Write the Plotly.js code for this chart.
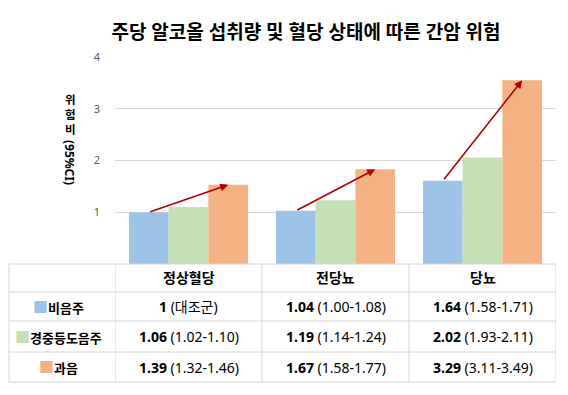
<!DOCTYPE html>
<html>
<head>
<meta charset="utf-8">
<script src="https://cdn.plot.ly/plotly-3.0.1.min.js"></script>
<style>html,body{margin:0;padding:0;background:#fff}#chart{width:568px;height:395px}</style>
</head>
<body>
<div id="chart"></div>
<script>
// ---- data ----
var categories = ['정상혈당', '전당뇨', '당뇨'];
var seriesNames = ['비음주', '경중등도음주', '과음'];
// bar heights
var nonDrinker = [1.00, 1.03, 1.61];
var moderate   = [1.10, 1.23, 2.06];
var heavy      = [1.53, 1.83, 3.55];
// table texts
var hrNon   = ['1', '1.04', '1.64'];
var ciNon   = ['(대조군)', '(1.00-1.08)', '(1.58-1.71)'];
var hrMod   = ['1.06', '1.19', '2.02'];
var ciMod   = ['(1.02-1.10)', '(1.14-1.24)', '(1.93-2.11)'];
var hrHeavy = ['1.39', '1.67', '3.29'];
var ciHeavy = ['(1.32-1.46)', '(1.58-1.77)', '(3.11-3.49)'];
var yTicks = [1, 2, 3, 4];
var titleText = '주당 알코올 섭취량 및 혈당 상태에 따른 간암 위험';
var yTitleKo = ['위', '험', '비'];
var yTitleEn = '(95%CI)';

// ---- style / layout constants ----
var colors = ['#9DC3E6', '#C5E0B4', '#F4B183'];
var FONT = 'Noto Sans, Noto Sans CJK KR, sans-serif';
var FONT_KR = 'Noto Sans CJK KR, sans-serif';
var bargap = 0.19;
var W = 568, H = 395;
var M = {l: 115, r: 12, t: 57, b: 131};
var plotW = W - M.l - M.r, plotH = H - M.t - M.b;
function px2paperX(px) { return (px - M.l) / plotW; }
function py2paperY(py) { return (H - M.b - py) / plotH; }
var tableLeftPx = 9;
var rowEdgesPx = [264, 292, 321, 352, 382];
var lineColor = '#d6d6d6';

var traces = [nonDrinker, moderate, heavy].map(function (vals, i) {
  return {
    type: 'bar', x: categories, y: vals, name: seriesNames[i],
    marker: {color: colors[i], line: {width: 0}},
    hoverinfo: 'skip'
  };
});

var shapes = [];
var annotations = [];

// table grid lines
rowEdgesPx.forEach(function (py) {
  shapes.push({type: 'line', xref: 'paper', yref: 'paper',
    x0: px2paperX(tableLeftPx), x1: 1, y0: py2paperY(py), y1: py2paperY(py),
    line: {color: lineColor, width: 1}});
});
var yTop = py2paperY(rowEdgesPx[0]), yBot = py2paperY(rowEdgesPx[rowEdgesPx.length - 1]);
shapes.push({type: 'line', xref: 'paper', yref: 'paper', x0: px2paperX(tableLeftPx), x1: px2paperX(tableLeftPx),
  y0: yTop, y1: yBot, line: {color: lineColor, width: 1}});
for (var b = 0; b <= categories.length; b++) {
  shapes.push({type: 'line', xref: 'x', yref: 'paper', x0: b - 0.5, x1: b - 0.5,
    y0: yTop, y1: yBot, line: {color: lineColor, width: 1}});
}
function rowCenter(r) { return py2paperY((rowEdgesPx[r] + rowEdgesPx[r + 1]) / 2); }

// header
categories.forEach(function (c, j) {
  annotations.push({xref: 'x', yref: 'paper', x: j, y: rowCenter(0) + 0.004,
    xanchor: 'center', yanchor: 'middle', showarrow: false,
    text: '<b>' + c + '</b>', font: {family: FONT, size: 14, color: '#000'}});
});
// row labels
var firstColCenter = (px2paperX(tableLeftPx) + 0) / 2;
seriesNames.forEach(function (n, i) {
  annotations.push({xref: 'paper', yref: 'paper', x: firstColCenter - 0.008, y: rowCenter(i + 1),
    xanchor: 'center', yanchor: 'middle', showarrow: false,
    text: '<span style="color:' + colors[i] + ';font-size:15px">■</span><b>' + n + '</b>',
    font: {family: FONT, size: 13, color: '#000'}});
});
// values
var hrRows = [hrNon, hrMod, hrHeavy], ciRows = [ciNon, ciMod, ciHeavy];
hrRows.forEach(function (hr, i) {
  categories.forEach(function (c, j) {
    annotations.push({xref: 'x', yref: 'paper', x: j, y: rowCenter(i + 1),
      xanchor: 'center', yanchor: 'middle', showarrow: false,
      text: '<b>' + hr[j] + '</b> ' + ciRows[i][j],
      font: {family: FONT, size: 14, color: '#000'}});
  });
});

// arrows from non-drinker bar top to heavy bar top
var off = (1 - bargap) / 3;
categories.forEach(function (c, j) {
  annotations.push({
    xref: 'x', yref: 'y', axref: 'x', ayref: 'y',
    x: j + off, y: heavy[j], ax: j - off, ay: nonDrinker[j],
    showarrow: true, arrowhead: 2, arrowsize: 1, arrowwidth: 1.6,
    arrowcolor: '#B00000', standoff: 0, startstandoff: 0, text: ''
  });
});

// y-axis title (Korean stacked upright, Latin rotated)
var yTitleX = px2paperX(70);
annotations.push({
  xref: 'paper', yref: 'paper', x: yTitleX, y: py2paperY(90),
  xanchor: 'center', yanchor: 'top', showarrow: false, borderpad: 0,
  text: '<b>' + yTitleKo.join('<br>') + '</b>', font: {family: FONT_KR, size: 11.5, color: '#000'}
});
annotations.push({
  xref: 'paper', yref: 'paper', x: yTitleX, y: py2paperY(162),
  xanchor: 'center', yanchor: 'middle', showarrow: false, textangle: 90, borderpad: 0,
  text: '<b>' + yTitleEn + '</b>', font: {family: FONT, size: 12, color: '#000'}
});

var layout = {
  width: W, height: H,
  margin: {l: M.l, r: M.r, t: M.t, b: M.b, pad: 0},
  paper_bgcolor: '#fff', plot_bgcolor: '#fff',
  showlegend: false,
  barmode: 'group', bargap: bargap, bargroupgap: 0,
  title: {
    text: '<b>' + titleText + '</b>',
    font: {family: FONT, size: 19, color: '#000'},
    x: 306 / W, xref: 'container', xanchor: 'center',
    y: 1 - 32 / H, yref: 'container', yanchor: 'middle'
  },
  xaxis: {
    type: 'category', range: [-0.5, categories.length - 0.5], showticklabels: false,
    showgrid: false, showline: false, zeroline: false, ticks: ''
  },
  yaxis: {
    range: [0, 4], tickvals: yTicks,
    ticktext: yTicks.map(String), showgrid: true, gridcolor: '#d9d9d9',
    gridwidth: 1, zeroline: false, showline: false, ticks: '',
    ticklabelstandoff: 14,
    tickfont: {family: FONT, size: 11, color: '#595959'}
  },
  shapes: shapes,
  annotations: annotations
};

Plotly.newPlot('chart', traces, layout, {displayModeBar: false, staticPlot: true});
</script>
</body>
</html>
